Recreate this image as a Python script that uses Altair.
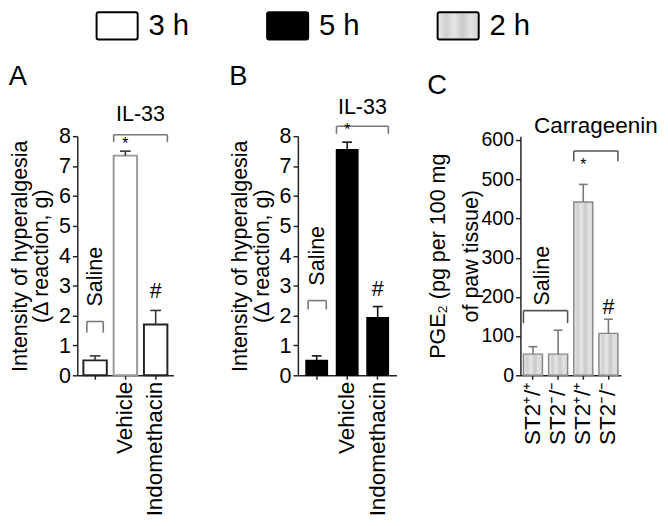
import json
import altair as alt
import pandas as pd

# ---------------- data ----------------
legend_items = ["3 h", "5 h", "2 h"]

a_groups = ["Saline", "Vehicle", "Indomethacin"]
a_means = [0.5, 7.35, 1.7]
a_tops = [0.65, 7.5, 2.17]

b_groups = ["Saline", "Vehicle", "Indomethacin"]
b_means = [0.5, 7.55, 1.93]
b_tops = [0.65, 7.8, 2.3]

c_groups = ["wt_saline", "ko_saline", "wt_carrageenin", "ko_carrageenin"]
c_labels = ["ST2⁺/⁺", "ST2⁻/⁻", "ST2⁺/⁺", "ST2⁻/⁻"]
c_means = [54, 54, 442, 107]
c_tops = [73, 115, 487, 143]

# annotation levels (data units)
a_brackets = [
    dict(start="Vehicle", end="Indomethacin", top=8.05, foot=7.8, b0=0.0, b1=1.0),
    dict(start="Saline", end="Saline", top=1.8, foot=1.43, b0=0.15, b1=0.85),
]
a_texts = [
    dict(g="Vehicle", y=8.5, text="IL-33", size=22, angle=0, bp="mid", baseline="alphabetic", align="center"),
    dict(g="Vehicle", y=7.72, text="*", size=16, angle=0, bp=0.5, baseline="middle", align="center"),
    dict(g="Indomethacin", y=2.8, text="#", size=22, angle=0, bp=0.5, baseline="middle", align="center"),
    dict(g="Saline", y=2.3, text="Saline", size=22, angle=270, bp=0.5, baseline="middle", align="left"),
]

b_brackets = [
    dict(start="Vehicle", end="Indomethacin", top=8.33, foot=8.08, b0=0.0, b1=1.0),
    dict(start="Saline", end="Saline", top=2.5, foot=2.2, b0=0.1, b1=0.95),
]
b_texts = [
    dict(g="Vehicle", y=8.75, text="IL-33", size=22, angle=0, bp="mid", baseline="alphabetic", align="center"),
    dict(g="Vehicle", y=8.19, text="*", size=16, angle=0, bp=0.5, baseline="middle", align="center"),
    dict(g="Indomethacin", y=2.88, text="#", size=22, angle=0, bp=0.5, baseline="middle", align="center"),
    dict(g="Saline", y=3.0, text="Saline", size=22, angle=270, bp=0.5, baseline="middle", align="left"),
]

c_brackets = [
    dict(start="wt_saline", end="ko_saline", top=165, foot=133, b0=0.0, b1=1.0),
    dict(start="wt_carrageenin", end="ko_carrageenin", top=572, foot=546, b0=0.0, b1=1.0),
]
c_texts = [
    dict(g="wt_saline", y=170, text="Saline", size=22, angle=270, bp="mid", baseline="middle", align="left"),
    dict(g="wt_carrageenin", y=617, text="Carrageenin", size=23, angle=0, bp="mid", baseline="alphabetic", align="center"),
    dict(g="wt_carrageenin", y=536, text="*", size=16, angle=0, bp=0.5, baseline="middle", align="center"),
    dict(g="ko_carrageenin", y=175, text="#", size=22, angle=0, bp=0.5, baseline="middle", align="center"),
]

# ---------------- style ----------------
FONT = "Liberation Sans, Arial, sans-serif"
NARROW = "Liberation Sans Narrow, Arial Narrow, Liberation Sans, sans-serif"
GRAD = {
    "gradient": "linear", "x1": 0, "y1": 0, "x2": 1, "y2": 0,
    "stops": [
        {"offset": 0.0, "color": "#ececec"},
        {"offset": 0.2, "color": "#cfcfcf"},
        {"offset": 0.4, "color": "#e6e6e6"},
        {"offset": 0.6, "color": "#c9c9c9"},
        {"offset": 0.8, "color": "#e2e2e2"},
        {"offset": 1.0, "color": "#d4d4d4"},
    ],
}


def panel(groups, means, tops, brackets, texts, *, width, height, ymax, yvals,
          pi, po, title, title_offset, ytitle, ytitle_lh, ytitle_pad, ylabel_size,
          bar_mark, bar_stroke, err_color, bracket_color, label_expr, xlabel_size):
    xs = alt.Scale(domain=groups, paddingInner=pi, paddingOuter=po)
    ys = alt.Scale(domain=[0, ymax], nice=False, zero=True)
    step = width / (len(groups) - pi + 2 * po)
    half_gap = step * pi / 2.0
    df = pd.DataFrame({"g": groups, "mean": means, "top": tops})
    xaxis = alt.Axis(title=None, labelAngle=270, labelExpr=label_expr,
                     labelFontSize=xlabel_size, labelFont=FONT, tickSize=4,
                     labelPadding=2)
    yaxis = alt.Axis(title=ytitle, values=yvals, labelFont=NARROW,
                     labelFontSize=ylabel_size, labelOverlap=False, tickSize=5,
                     labelPadding=2, titleFont=FONT, titleFontSize=22,
                     titleFontWeight="normal", titleLineHeight=ytitle_lh,
                     titlePadding=ytitle_pad)

    def X(field, **kw):
        return alt.X(field, scale=xs, axis=xaxis, **kw)

    def Y(field):
        return alt.Y(field, scale=ys, axis=yaxis)

    base = alt.Chart(df)
    enc = dict(x=X("g:N"), y=Y("mean:Q"))
    if bar_stroke is not None:
        enc["stroke"] = bar_stroke
    layers = [base.mark_bar(**bar_mark).encode(**enc)]
    layers.append(base.mark_rule(color=err_color, strokeWidth=1.6).encode(
        x=X("g:N"), y=Y("mean:Q"), y2="top:Q"))
    layers.append(base.mark_rule(color=err_color, strokeWidth=1.6).encode(
        x=X("g:N", bandPosition=0.27), x2=alt.X2("g:N", bandPosition=0.73),
        y=Y("top:Q")))
    for br in brackets:
        bc = alt.Chart(pd.DataFrame([br]))
        layers.append(bc.mark_rule(color=bracket_color, strokeWidth=1.6).encode(
            x=X("start:N", bandPosition=br["b0"]),
            x2=alt.X2("end:N", bandPosition=br["b1"]),
            y=Y("top:Q")))
        layers.append(bc.mark_rule(color=bracket_color, strokeWidth=1.6).encode(
            x=X("start:N", bandPosition=br["b0"]), y=Y("top:Q"), y2="foot:Q"))
        layers.append(bc.mark_rule(color=bracket_color, strokeWidth=1.6).encode(
            x=X("end:N", bandPosition=br["b1"]), y=Y("top:Q"), y2="foot:Q"))
    for t in texts:
        tdf = pd.DataFrame([{"g": t["g"], "y": t["y"], "text": t["text"]}])
        if t["bp"] == "mid":
            bp, dx = 1.0, half_gap
        else:
            bp, dx = t["bp"], 0
        layers.append(alt.Chart(tdf).mark_text(
            font=FONT, fontSize=t["size"], angle=t["angle"], align=t["align"],
            baseline=t["baseline"], color="black", dx=dx).encode(
            x=X("g:N", bandPosition=bp), y=Y("y:Q"), text="text:N"))
    return alt.layer(*layers).properties(
        width=width, height=height,
        title=alt.TitleParams(text=title, anchor="start", frame="bounds", fontSize=28,
                              font=FONT, fontWeight="normal", offset=title_offset,
                              color="black"))


blank_saline = "datum.value == 'Saline' ? '' : datum.value"
c_expr = (json.dumps(c_labels, ensure_ascii=False) + "[indexof(" +
          json.dumps(c_groups, ensure_ascii=False) + ", datum.value)]")

panel_a = panel(
    a_groups, a_means, a_tops, a_brackets, a_texts,
    width=98.5, height=245, ymax=8, yvals=list(range(9)), pi=0.226, po=0.2,
    title="A", title_offset=13,
    ytitle=["Intensity of hyperalgesia", "(Δ reaction, g)"], ytitle_lh=22, ytitle_pad=6,
    ylabel_size=22,
    bar_mark=dict(fill="white", strokeWidth=2),
    bar_stroke=alt.condition(alt.datum.g == "Vehicle", alt.value("#999999"), alt.value("#222222")),
    err_color="#333333", bracket_color="#777777", label_expr=blank_saline, xlabel_size=23)

panel_b = panel(
    b_groups, b_means, b_tops, b_brackets, b_texts,
    width=101, height=245, ymax=8, yvals=list(range(9)), pi=0.3, po=0.266,
    title="B", title_offset=5,
    ytitle=["Intensity of hyperalgesia", "(Δ reaction, g)"], ytitle_lh=22, ytitle_pad=6,
    ylabel_size=22,
    bar_mark=dict(fill="black", stroke="black", strokeWidth=1.5),
    bar_stroke=None,
    err_color="#111111", bracket_color="#777777", label_expr=blank_saline, xlabel_size=23)

panel_c = panel(
    c_groups, c_means, c_tops, c_brackets, c_texts,
    width=103, height=245, ymax=610, yvals=list(range(0, 700, 100)), pi=0.245, po=0.12,
    title="C", title_offset=16,
    ytitle=["PGE₂ (pg per 100 mg", "of paw tissue)"], ytitle_lh=33, ytitle_pad=-1,
    ylabel_size=20,
    bar_mark=dict(fill=GRAD, stroke="#888888", strokeWidth=1.5),
    bar_stroke=None,
    err_color="#777777", bracket_color="#555555", label_expr=c_expr, xlabel_size=23)

# ---------------- legend ----------------
leg_df = pd.DataFrame({"item": legend_items})
lx = alt.Scale(domain=legend_items, paddingInner=0.759, paddingOuter=0.113)
boxes = alt.Chart(leg_df).mark_rect(stroke="black", strokeWidth=2, cornerRadius=2).encode(
    x=alt.X("item:N", scale=lx, axis=None),
    fill=alt.condition(
        alt.datum.item == "2 h", alt.value(GRAD),
        alt.Fill("item:N", scale=alt.Scale(domain=legend_items,
                                           range=["white", "black", "#d4d4d4"]),
                 legend=None)))
leg_text = alt.Chart(leg_df).mark_text(align="left", dx=11, fontSize=30, font=FONT,
                                       color="black").encode(
    x=alt.X("item:N", scale=lx, axis=None, bandPosition=1),
    text="item:N")
legend = alt.layer(boxes, leg_text).properties(width=431, height=28)

row = alt.hconcat(panel_a, panel_b, panel_c, spacing=127, bounds="flush")
chart = alt.vconcat(legend, row, spacing=99, bounds="flush").properties(
    padding={"left": 0, "top": -3, "right": 2, "bottom": 0}
).configure_view(stroke=None).configure_axis(
    domainColor="#222222", domainWidth=1.5, tickColor="#222222", tickWidth=1.5,
    labelColor="black", titleColor="black", grid=False
)

chart.save("out.html", embed_options={"renderer": "svg", "actions": False})
